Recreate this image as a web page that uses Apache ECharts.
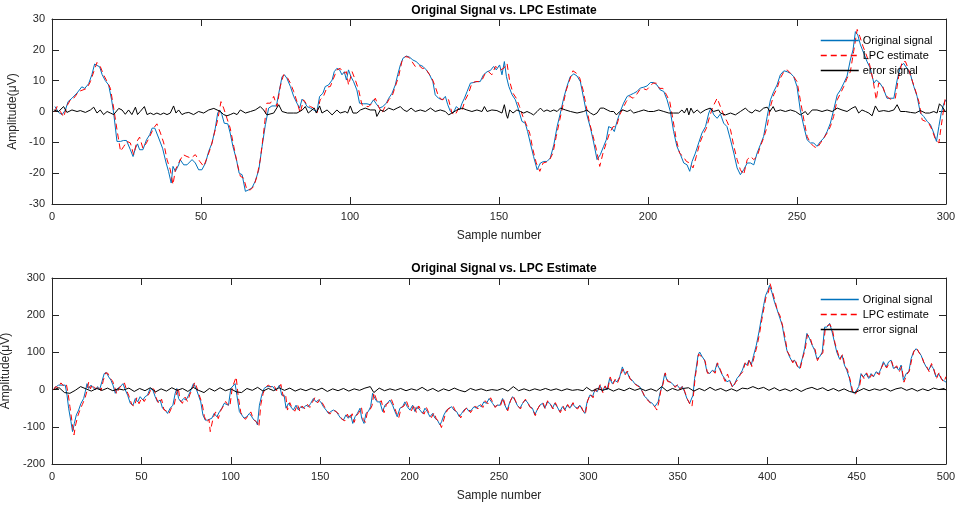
<!DOCTYPE html>
<html><head><meta charset="utf-8">
<script src="https://cdn.jsdelivr.net/npm/echarts@6/dist/echarts.min.js"></script>
<style>html,body{margin:0;padding:0;background:#fff}#c{width:956px;height:506px}</style>
</head><body><div id="c"></div>
<script>
// ---------- data (sample number, amplitude in µV) ----------
const titles = ["Original Signal vs. LPC Estimate", "Original Signal vs. LPC Estimate"];
const seriesNames = ["Original signal", "LPC estimate", "error signal"];
const topXTicks = [0, 300, 50];   // min, max, step
const topYTicks = [-30, 30, 10];
const botXTicks = [0, 500, 50];
const botYTicks = [-200, 300, 100];

const top_orig = [[1,1.6],[2.2,-0.3],[3.4,-1],[4.5,0.5],[5.4,3.2],[6.7,4.3],[8.4,6],[10,8],[11,7.5],[12.3,9],[13.4,12],[14.3,15.4],[15,15],[16,14.5],[16.8,12],[17.9,10],[19,8.6],[20,3.8],[20.7,-0.5],[21.8,-9.7],[23,-9.7],[24,-9.4],[25,-9.4],[26.3,-12.4],[27.2,-14.6],[28,-11.9],[28.7,-10.5],[29.4,-12.4],[30.5,-12.4],[31.7,-9.2],[32.8,-7.5],[33.6,-5.4],[34.5,-5.4],[35.8,-8.6],[37.1,-11.9],[38.3,-16.7],[39.1,-19.4],[40,-23.2],[40.6,-17.8],[41.4,-19.4],[42.5,-17.3],[43,-15.6],[44.2,-17.3],[45.3,-17.3],[47,-15.6],[48.1,-16.7],[49.2,-18.9],[50.3,-18.9],[51.5,-16.7],[52.6,-12.9],[53.7,-10.2],[54.8,-5.4],[55.6,-0.5],[56.3,0.5],[57,-1],[57.8,-3.8],[59,-4],[59.8,-7],[60.7,-11.3],[61.9,-15.6],[62.8,-20],[63.8,-20.5],[64.9,-25.9],[66,-25.4],[67.1,-24.8],[68.2,-22.6],[69.4,-18.9],[70.5,-11.3],[71.6,-4.3],[72.7,1.1],[73.8,1.8],[75.3,1.8],[76.1,5.9],[77.2,11.3],[78,11.9],[78.8,10.8],[80,8.1],[81.1,4.9],[82.2,2.7],[83.1,1.1],[83.9,4],[84.7,3.2],[85.6,1.6],[86.7,1.1],[87.8,0.5],[88.9,0],[89.8,4.9],[90.9,5.9],[91.7,8.1],[92.8,8.6],[94,10.2],[94.7,12.9],[95.6,14],[96.5,13.5],[97.3,11.9],[98.1,12.9],[98.8,10.2],[99.5,13.5],[100.3,11.3],[101.2,9.7],[102.3,7],[103.2,2.7],[104.6,2.5],[105.7,2.5],[106.8,2.2],[107.9,3.8],[108.8,2.5],[109.9,1.1],[111,1.6],[112.2,2.7],[113,4.3],[114.1,5.9],[115.2,8.6],[116,11.9],[116.9,15.1],[117.8,17.3],[118.9,18],[120,17.6],[121.1,16.7],[122.2,16.2],[123.4,15.1],[124.5,14.6],[125.6,13.5],[126.7,11.9],[127.8,9.7],[128.6,5.4],[129.7,4.3],[130.9,3.8],[132,4.9],[132.8,2.2],[133.7,0],[134.6,-0.5],[135.7,1.6],[136.8,0.5],[137.6,2.7],[138.4,4.3],[139.3,6.5],[140.4,9.2],[141.5,9.4],[142.6,9.7],[143.7,9.7],[144.8,11.9],[146,12.9],[147.1,13.3],[148.2,14.6],[149.1,13.5],[150.2,15.1],[151,11.9],[151.8,16.2],[152.5,11.3],[153.3,8.1],[154.4,5.4],[155.5,3.8],[156.6,0.5],[157.7,-3.2],[158.8,-3.8],[159.6,-6.5],[160.5,-10.2],[161.6,-14.6],[162.8,-18.9],[163.9,-16.7],[165,-16.2],[166.1,-16.2],[167.2,-15.1],[168.4,-10.8],[169.5,-4.9],[170.6,-0.5],[171.7,4.3],[172.8,8.1],[173.9,11.3],[175.1,12.2],[176.2,11.5],[177.3,9.7],[178.4,4.3],[179.5,-1.1],[180.7,-5.4],[181.8,-10.2],[182.9,-15.6],[184,-14],[185.1,-11.3],[186,-9.2],[186.8,-4.9],[187.9,-5.4],[188.7,-6.5],[189.6,-3.2],[190.7,0],[191.8,2.7],[193,4.9],[194.1,5.4],[195.2,5.9],[196.3,6.5],[197.4,7.6],[198.6,7.9],[199.7,8.3],[200.8,9.4],[201.9,9.4],[203,8.6],[204.1,7],[205.3,6.5],[206.4,3.8],[207.5,0],[208.6,-6.5],[209.7,-11.3],[210.9,-14],[212,-16.7],[213.1,-17.3],[214,-19.4],[214.8,-16.2],[215.9,-13.5],[217,-10.2],[218.1,-7],[219.3,-4.9],[220.4,-0.5],[221.1,1.1],[222.1,-1.1],[223.2,-2.2],[224.3,-0.8],[225.4,-3.8],[226.5,-4.9],[227.7,-9.2],[228.8,-13.5],[229.9,-18.3],[231,-20.5],[232.1,-18.9],[233.3,-16.7],[234.4,-16.7],[235.5,-17.3],[236.6,-13.5],[237.7,-10.8],[238.8,-8.1],[240,-1.6],[241.1,3.8],[242.2,6.5],[243.3,8.6],[244.4,11.9],[245.6,13.2],[246.7,12.9],[247.8,12.4],[248.9,11.3],[250,8.1],[251.1,0.5],[252.3,-4.9],[253.4,-9.2],[254.5,-10.2],[255.6,-10.2],[256.7,-11.3],[257.9,-9.7],[259,-8.6],[260.1,-6.5],[261.2,-3.8],[262.3,0.5],[263.5,5.4],[264.6,7],[265.7,9.2],[266.8,11.5],[267.9,16.7],[268.8,20],[269.6,25.9],[270.4,24.8],[271.3,21.6],[272.4,18.9],[273.5,16.2],[274.6,14],[275.8,9.2],[276.6,10.2],[277.8,9.2],[278.9,7.6],[280.2,4.3],[281.3,4.3],[282.5,4.3],[283.6,10.2],[284.7,14.6],[285.8,15.6],[286.9,14],[288.1,11.9],[289.2,8.1],[290.3,4.9],[291.4,-0.5],[292.5,-1.6],[293.7,-3.2],[294.8,-4.3],[295.9,-7],[296.8,-9.7],[297.6,-4.9],[298.4,-0.5],[299.3,2.7],[300,3.8]];

const top_lpc = [[1,0],[1.7,1.6],[2.8,0],[3.9,-1.8],[5,1.8],[6.2,3.8],[7.3,4.3],[9,6.5],[10.4,7],[11.7,7.5],[12.9,9.7],[14,12.9],[15.1,15.9],[16.2,14.6],[17.3,11.9],[18.5,9.7],[19.6,7.5],[20.7,1.1],[21.8,-5.9],[23,-12.9],[24.1,-11.3],[25.2,-9.7],[26.3,-10.2],[27.4,-14],[28.5,-9.7],[29.4,-8.3],[30.5,-11.9],[31.7,-10.2],[32.8,-8.1],[34.1,-5.4],[35.2,-4],[36.4,-7],[37.5,-10.2],[38.6,-15.6],[39.7,-18.9],[40.6,-23.7],[41.4,-18.9],[42.5,-16.7],[44,-14],[45.3,-14.6],[46.6,-15.1],[48.1,-14],[49.6,-16.2],[50.9,-17.8],[52,-15.1],[53.4,-11.3],[54.5,-7],[55.6,-2.7],[56.7,3.2],[57.6,1.1],[58.7,-2.2],[59.8,-5.4],[61,-11.3],[62.1,-16.7],[63.2,-21],[64.3,-21.6],[65.4,-25.4],[66.6,-25.4],[67.7,-24.3],[68.8,-21],[69.9,-15.6],[71,-7],[72.1,2.7],[73.3,2.7],[74.4,4.9],[75.5,1.6],[76.6,8.1],[77.7,11.9],[78.8,11.3],[80,9.2],[81.1,6.5],[82.2,3.2],[83.3,-0.5],[84.4,3.8],[85.6,2.2],[86.7,1.6],[87.8,1.1],[88.9,-0.5],[90,3.8],[91.1,4.9],[92.3,7.9],[93.4,8.1],[94.5,10.8],[95.6,13.5],[96.7,14],[97.9,12.4],[98.8,12.9],[99.5,8.6],[100.7,12.9],[101.8,10.2],[102.9,7],[104,2.2],[105.1,1.6],[106.3,1.6],[107.4,2.7],[108.5,4.3],[109.6,1.6],[110.7,-0.5],[111.8,1.6],[113,3.8],[114.1,4.9],[115.2,8.1],[116.3,11.3],[117.4,16.2],[118.6,17.8],[119.7,17.6],[120.8,16.2],[121.9,14.6],[123,15.1],[124.2,14],[125.3,14],[126.4,12.4],[127.5,10.8],[128.6,8.1],[129.7,4.9],[130.9,3.8],[132,4.3],[133.1,3.8],[134.2,-0.5],[135.3,-1.1],[136.5,1.1],[137.6,0.5],[138.7,3.8],[139.8,5.9],[140.9,9.2],[142.1,9.7],[143.2,9.7],[144.3,10.2],[145.4,12.4],[146.5,12.9],[147.6,11.9],[148.8,14.6],[149.3,15.1],[150.5,13.5],[151.6,14],[152.7,15.6],[153.6,9.7],[154.7,5.9],[155.8,4.3],[156.9,1.6],[158,-1.6],[159.2,-4.3],[160.3,-7],[161.4,-12.4],[162.5,-16.7],[163.7,-19.4],[164.8,-16.7],[165.9,-16.4],[167,-15.6],[168.1,-13.5],[169.2,-8.1],[170.4,-2.7],[171.5,2.2],[172.6,7],[173.7,10.2],[174.8,13.2],[176,12.4],[177.1,10.8],[178.2,7],[179.3,1.6],[180.4,-3.8],[181.6,-8.1],[182.7,-12.4],[183.8,-17.8],[184.9,-13.5],[186,-10.2],[187.1,-7],[188.3,-4.9],[189.4,-4.9],[190.5,-1.1],[191.6,1.1],[192.7,3.2],[193.9,4.9],[195,4.3],[196.1,5.4],[197.2,7],[198.3,7.5],[199.5,7],[200.6,8.1],[201.7,9.2],[202.8,9.2],[203.9,7.5],[205,7.5],[206.2,5.4],[207.3,3.2],[208.4,-2.7],[209.5,-9.2],[210.6,-13.5],[211.8,-14.6],[212.9,-16.2],[214,-16.7],[215.1,-18.3],[216.2,-14.6],[217.4,-10.2],[218.5,-7.5],[219.6,-5.4],[220.7,-1.6],[221.8,1.6],[223.2,4.3],[224.3,1.6],[225.4,-1.1],[226.5,-3.2],[227.7,-5.9],[228.8,-11.3],[229.9,-15.6],[231,-18.9],[232.1,-20.5],[233.3,-15.6],[234.4,-14.6],[235.5,-15.6],[236.6,-14.6],[237.7,-11.3],[238.8,-8.6],[240,-4.9],[241.1,1.6],[242.2,5.4],[243.3,7.5],[244.4,10.8],[245.6,12.9],[246.7,13.5],[247.8,12.4],[248.9,11.3],[250,9.7],[251.1,3.8],[252.3,-2.7],[253.4,-8.1],[254.5,-10.2],[255.6,-11.3],[256.7,-11.9],[257.9,-10.2],[259,-8.6],[260.1,-7],[261.2,-4.9],[262.3,-1.6],[263.5,3.8],[264.6,5.9],[265.7,8.1],[266.8,10.8],[267.9,12.9],[269,19.4],[270.2,26.6],[271.1,24.3],[272.2,21],[273.3,18.3],[274.4,15.1],[275.5,10.2],[276.6,3.8],[277.4,9.2],[278.6,8.6],[279.7,5.4],[280.8,4.3],[281.9,3.8],[283,4.3],[284.1,11.3],[285.3,16.2],[286.4,16.2],[287.5,13.5],[288.6,10.2],[289.7,7],[290.9,3.2],[292,-2.7],[293.1,-3.2],[294.2,-3.8],[295.3,-5.9],[296.5,-9.2],[297.6,-10.2],[298.7,-2.7],[299.8,4.9]];

const top_err = [[0.6,0.5],[2.2,0],[3.9,1.6],[5,-0.3],[6.7,0.5],[8.4,0],[9.5,0.3],[11.2,-0.3],[12.9,0.5],[14,1.4],[15.1,-0.5],[16.2,0.5],[17.3,-1],[18.5,0],[19.6,-0.5],[20.7,-1],[22.4,1],[23.5,0.5],[24.6,-0.9],[25.7,0.5],[26.8,-1],[28,1.4],[28.7,-1],[29.6,0],[31,1.6],[31.9,-1],[33,-0.5],[34.1,-1],[35.2,-0.5],[36.4,-1],[37.5,-0.5],[38.6,-1],[39.7,-0.5],[40.3,-1],[40.8,1.8],[41.6,-0.5],[42.5,0.5],[43.6,-1],[44.7,-0.5],[45.9,-0.3],[47.5,-1],[49.2,0],[50.9,-0.5],[52.6,0.5],[54.3,1],[55.4,0.5],[56.5,0],[57.6,-1],[58.7,-1.4],[59.8,-1],[61,-0.5],[62.1,-1],[63.2,0.5],[64.9,-0.5],[66.6,0],[68.2,0.5],[69.9,1.6],[71,0.5],[72.1,-1.1],[74.4,-0.5],[76.1,2.2],[77.2,0],[79,-0.5],[81,-0.5],[82.2,-0.5],[84,0.5],[85,1.6],[86,-0.5],[88,1.1],[88.7,-0.5],[89.8,1.8],[90.6,-0.5],[92.3,0.5],[94,-1.1],[95.6,0.5],[96.7,-0.5],[98.4,0],[99.2,-0.5],[100.1,1.8],[101,-0.5],[102.3,-0.5],[103.5,0.5],[105.1,1.1],[106.8,0.5],[108.5,0.5],[109,-1.6],[110.2,0.5],[111.5,0],[113,1.1],[114.6,0.5],[115.8,1.1],[116.9,1.6],[118,0.5],[119.1,0],[120.5,1.1],[121.9,0],[123.6,0.5],[125.3,0],[127,1.1],[128.6,0],[130.3,0.5],[132,0],[133.1,-1.1],[134.2,-0.5],[135.9,0.5],[137.6,1.1],[139.2,0.5],[140.9,0],[142.6,0.5],[144.3,0],[145.1,1.6],[146,0],[147.6,0.5],[149.3,0.3],[151,-0.5],[151.8,2.2],[152.5,-1.1],[152.9,-2.2],[153.6,0.5],[154.7,-0.5],[156,0.5],[157.2,0],[158.3,-0.5],[159.4,0],[160.5,-0.5],[161.6,-1.1],[162.8,0],[163.9,1.1],[165,0],[166.1,0.5],[167.2,0],[168.4,0.5],[169.5,0],[170.6,1.1],[172.3,0.5],[174,0],[176.2,-0.5],[178.4,0],[179.5,0.5],[180.7,-0.5],[181.8,-1.1],[182.9,-0.5],[184,1.1],[185.1,1.1],[186.3,0.5],[187.4,0],[188.5,0],[189.4,-1.1],[190.5,0],[191.6,0.5],[193,0],[194.1,0.5],[195.2,-0.5],[196.9,0],[198.6,0.5],[200.2,0],[201.9,0],[203.6,0.5],[205.3,0],[207,-0.5],[208.6,-0.5],[210.3,-0.5],[211.4,0.5],[212.2,-0.5],[213.1,1.1],[213.7,-1.1],[214.4,1.1],[215.3,-0.5],[216.5,0.5],[217.6,-0.5],[219.2,0.5],[220.9,1.1],[222,0],[223.7,0.5],[224.3,-0.5],[226,-1.1],[227.7,-0.5],[229.3,-1.1],[231,0],[232.7,1.1],[233.8,0],[234.9,-0.5],[236,0.5],[237.5,0],[238.8,1.1],[240,1.4],[240.9,0],[242,1.6],[242.8,0],[244.4,0.5],[246.1,0],[247.8,0.5],[249.5,0],[251.1,-1.1],[252.8,0],[253.6,-1.1],[255.1,0.5],[256.7,0.5],[258.4,0],[260.1,0.5],[261.8,0],[263.5,1.1],[265.1,0.5],[266.8,0],[268.5,1.1],[269.6,1.6],[270.7,-0.5],[271.8,0.5],[273,0],[274.1,-0.5],[275.2,-1.4],[276.3,1.8],[277.4,0],[279.1,0.3],[280.8,0],[282.5,0.5],[283.6,2.2],[284.7,0],[286.4,0],[288.1,-0.3],[289.7,-0.5],[291.4,0.3],[293.1,-0.5],[294.5,-0.5],[295.9,0],[297,-0.5],[297.8,2.5],[298.7,1.6],[299.8,0]];

const bot_orig = [[1,3],[2.4,8],[3.7,12],[5,12],[6.1,8],[7.4,12],[8.4,-15],[9.3,-50],[10.6,-86],[11.5,-113],[12.5,-91],[13.6,-68],[14.9,-55],[16.2,-37],[17.7,-24],[18.6,-6],[19.6,16],[20.5,3],[21.8,12],[22.9,8],[24.2,-1],[25.5,8],[26.6,-1],[27.9,21],[29.2,43],[30.4,46],[31.7,34],[33,25],[34.1,12],[35.4,-10],[36.7,3],[38.2,8],[39.7,16],[41,-1],[42.3,-15],[43.8,-37],[45.3,-42],[46.6,-24],[47.9,-33],[49.3,-19],[50.8,-28],[52.1,-19],[53.4,-15],[54.9,3],[56.4,-1],[57.7,-19],[59,-33],[60.5,-28],[61.8,-50],[63.3,-55],[64.6,-64],[66.1,-50],[67.6,-42],[68.9,-10],[69.8,3],[70.8,-24],[72.1,-33],[73.6,-24],[75,-28],[76.4,-15],[77.7,-1],[79.1,16],[80.6,3],[81.9,-15],[83.2,-33],[84.4,-68],[85.7,-82],[87,-82],[88.1,-86],[89.4,-77],[90.7,-64],[92.2,-73],[93.7,-59],[95,-50],[96.3,-37],[97.4,-33],[98.7,-42],[100,3],[101.1,8],[102.4,16],[103.4,-15],[104.8,-59],[106.1,-68],[107.4,-77],[108.9,-73],[110.4,-64],[111.7,-73],[113,-82],[114.2,-86],[114.9,-95],[116,-42],[117.3,-15],[118.6,3],[120.1,8],[122,8],[123.5,8],[124.8,-1],[126.1,3],[127.2,12],[128.5,-15],[129.8,-15],[130.9,-50],[132.2,-37],[133.5,-46],[135,-55],[136.5,-42],[137.8,-55],[139.1,-46],[140.6,-50],[142.1,-42],[143.4,-46],[144.7,-37],[146.2,-24],[147.7,-33],[149,-28],[150.3,-33],[151.8,-46],[153.3,-55],[154.6,-64],[155.9,-59],[157.4,-55],[158.9,-59],[160.2,-68],[161.5,-77],[163,-82],[164.4,-68],[165.7,-77],[167.1,-68],[168.2,-91],[169.5,-73],[170.8,-64],[172.3,-50],[173.2,-77],[174.5,-91],[175.6,-64],[176.9,-59],[178.2,-46],[179.3,-10],[180.6,-24],[181.9,-33],[183.4,-33],[184.9,-59],[186.2,-42],[187.5,-37],[189,-28],[190.5,-42],[191.8,-59],[193.1,-73],[194.6,-50],[196.1,-46],[197.4,-33],[198.7,-46],[200.2,-55],[201.7,-42],[203,-59],[204.3,-46],[205.8,-55],[207.3,-64],[208.6,-50],[209.9,-59],[211.4,-73],[212.9,-64],[214.2,-77],[215.5,-82],[217,-95],[217.9,-86],[219.2,-68],[220.7,-55],[222.2,-50],[223.5,-46],[224.8,-55],[226.3,-59],[227.8,-73],[229.1,-64],[230.4,-55],[231.9,-50],[233.3,-59],[234.6,-55],[236,-46],[237.4,-50],[238.9,-42],[240.2,-46],[241.5,-33],[243,-37],[244.5,-24],[246.4,-37],[247.7,-46],[249,-42],[250.5,-42],[252,-24],[253.3,-42],[254.6,-55],[256.1,-33],[257.6,-19],[258.9,-28],[260.2,-42],[261.7,-50],[263.2,-37],[264.5,-28],[265.8,-33],[267.2,-46],[268.7,-50],[270,-68],[271.3,-55],[272.8,-42],[274.3,-37],[275.6,-50],[276.9,-33],[278.4,-37],[279.9,-50],[281.2,-37],[282.5,-46],[284,-59],[285.5,-46],[286.8,-55],[288.1,-42],[289.6,-50],[291.1,-37],[292.4,-46],[293.7,-50],[295.2,-42],[296.7,-55],[298,-64],[299.3,-33],[300.8,-15],[302.3,-19],[303.6,-1],[304.9,-6],[306.4,12],[307.8,-6],[309.1,8],[310.4,-1],[311.9,30],[313.4,16],[314.7,25],[316,21],[317.5,34],[319,61],[320.3,43],[321.6,48],[323.1,30],[324.6,25],[325.9,16],[327.2,12],[328.7,8],[330.2,-6],[331.5,-19],[332.8,-24],[334.3,-33],[335.8,-37],[337.1,-46],[338,-50],[339,-33],[340.2,-6],[341.4,12],[342.7,43],[344,25],[345.5,21],[347,16],[348.3,8],[349.6,12],[351.1,3],[352.5,8],[353.8,-6],[355.1,-24],[356.6,-37],[357.6,-42],[358.5,-15],[359.4,30],[360.4,61],[361.3,92],[362.2,101],[363.7,88],[365,79],[366.3,48],[367.8,43],[369.3,52],[370.6,48],[371.9,70],[373.4,55],[374.9,39],[376.2,30],[377.5,21],[379,25],[380.5,8],[381.8,16],[383.1,30],[384.6,39],[386.1,52],[387.4,70],[388.7,66],[389.8,79],[391.1,66],[392.4,92],[393.9,119],[395.4,155],[396.7,191],[398,226],[399.1,253],[400.4,267],[401.3,280],[402.6,262],[404.1,235],[405.4,217],[406.9,195],[408.4,173],[409.7,137],[411,106],[412.5,88],[414,75],[415.3,79],[416.6,66],[418.1,57],[419.6,83],[420.9,110],[422.2,151],[423.7,137],[425.2,119],[426.5,106],[427.8,83],[429.3,88],[430.8,101],[432.1,168],[433.4,168],[434.9,178],[436.3,155],[437.6,128],[438.9,101],[440.4,83],[441.9,92],[443.2,66],[444.5,52],[446,30],[447.5,-6],[448.8,-10],[450.1,-1],[451.2,8],[452.5,43],[453.8,34],[455.3,43],[456.8,30],[458.1,43],[459.4,34],[460.9,48],[462.4,43],[463.7,57],[465,75],[466.5,61],[468,75],[469.3,79],[470.6,57],[472.1,61],[473.6,52],[474.9,66],[476.2,25],[477.7,43],[479.2,48],[480.5,83],[481.8,101],[483.3,110],[484.8,101],[486.1,92],[487.4,75],[488.9,61],[490.3,52],[491.6,66],[492.9,57],[494.4,34],[495.9,43],[497.2,30],[498.5,25],[500,20]];

const bot_lpc = [[1,0],[2,8],[3.5,5],[5,18],[6.5,10],[8,15],[9,-10],[10,-45],[11.3,-90],[12.3,-122],[13.2,-95],[14.5,-70],[15.8,-52],[17,-40],[18.5,-22],[19.5,-5],[20.5,20],[21.5,2],[22.6,14],[23.7,5],[25,2],[26.3,10],[27.4,-3],[28.7,25],[30,45],[31.2,44],[32.5,30],[33.8,24],[35,8],[36.2,-12],[37.5,5],[39,10],[40.5,18],[41.8,-3],[43.1,-18],[44.6,-40],[46.1,-45],[47.4,-22],[48.7,-38],[50.1,-22],[51.6,-32],[52.9,-20],[54.2,-12],[55.7,5],[57.2,0],[58.5,-25],[59.8,-38],[61.3,-26],[62.6,-54],[64.1,-58],[65.4,-65],[66.9,-48],[68.4,-40],[69.7,-8],[70.6,5],[71.6,-28],[72.9,-37],[74.4,-20],[75.8,-32],[77.2,-12],[78.5,2],[79.9,20],[81.4,0],[82.7,-20],[84,-38],[85.2,-72],[86.5,-88],[87.8,-80],[88.5,-113],[90.2,-75],[91.5,-60],[93,-78],[94.5,-55],[95.8,-45],[97.1,-32],[98.2,-40],[99.5,-45],[100.8,5],[101.9,10],[103,34],[104.2,-20],[105.6,-62],[106.9,-72],[108.2,-80],[109.7,-70],[111.2,-60],[112.5,-78],[113.8,-85],[115,-90],[115.7,-100],[116.8,-40],[118.1,-10],[119.4,6],[120.9,12],[122.8,6],[124.3,10],[125.6,-3],[126.9,5],[128,14],[129.3,-18],[130.6,-12],[131.7,-55],[133,-35],[134.3,-50],[135.8,-58],[137.3,-40],[138.6,-58],[139.9,-44],[141.4,-52],[142.9,-40],[144.2,-48],[145.5,-35],[147,-22],[148.5,-36],[149.8,-26],[151.1,-35],[152.6,-48],[154.1,-58],[155.4,-66],[156.7,-57],[158.2,-57],[159.7,-62],[161,-70],[162.3,-80],[163.8,-84],[165.2,-66],[166.5,-80],[167.9,-65],[169,-88],[170.3,-70],[171.6,-62],[173.1,-48],[174,-80],[175.3,-88],[176.4,-60],[177.7,-56],[179,-43],[180.1,-8],[181.4,-26],[182.7,-35],[184.2,-30],[185.7,-62],[187,-40],[188.3,-35],[189.8,-26],[191.3,-45],[192.6,-62],[193.9,-76],[195.4,-48],[196.9,-44],[198.2,-30],[199.5,-48],[201,-57],[202.5,-40],[203.8,-62],[205.1,-44],[206.6,-57],[208.1,-66],[209.4,-48],[210.7,-62],[212.2,-75],[213.7,-62],[215,-80],[216.3,-84],[217.8,-102],[218.7,-88],[220,-66],[221.5,-52],[223,-48],[224.3,-44],[225.6,-57],[227.1,-62],[228.6,-76],[229.9,-62],[231.2,-52],[232.7,-48],[234.1,-62],[235.4,-52],[236.8,-44],[238.2,-52],[239.7,-40],[241,-48],[242.3,-30],[243.8,-38],[245.3,-22],[246.6,-35],[247.9,-48],[249.3,-40],[250.8,-44],[252.3,-22],[253.6,-44],[254.9,-57],[256.4,-30],[257.9,-16],[259.2,-30],[260.5,-44],[262,-52],[263.5,-35],[264.8,-26],[266.1,-35],[267.5,-48],[269,-52],[270.3,-70],[271.6,-52],[273.1,-40],[274.6,-35],[275.9,-52],[277.2,-30],[278.7,-38],[280.2,-52],[281.5,-35],[282.8,-48],[284.3,-62],[285.8,-44],[287.1,-57],[288.4,-40],[289.9,-52],[291.4,-35],[292.7,-48],[294,-52],[295.5,-40],[297,-57],[298.3,-66],[299.6,-30],[301.1,-12],[302.6,-22],[303.9,2],[305.2,-8],[306.7,15],[308.1,-8],[309.4,10],[310.7,-3],[312.2,34],[313.7,14],[315,28],[316.3,18],[317.8,36],[319.3,55],[320.6,40],[321.9,50],[323.4,28],[324.9,22],[326.2,14],[327.5,10],[329,5],[330.5,-8],[331.8,-22],[333.1,-28],[334.6,-36],[336.1,-40],[337.4,-48],[338.3,-55],[339.3,-36],[340.5,-3],[341.7,14],[343,45],[344.3,22],[345.8,20],[347.3,14],[348.6,6],[349.9,14],[351.4,0],[352.8,10],[354.1,-8],[355.4,-26],[356.9,-40],[357.9,-46],[358.8,-12],[359.7,32],[360.7,64],[361.6,95],[362.5,98],[364,86],[365.3,76],[366.6,44],[368.1,45],[369.6,50],[370.9,44],[372.2,72],[373.7,55],[375.2,36],[376.5,22],[377.8,42],[379.3,20],[380.8,5],[382.1,18],[383.4,26],[384.9,40],[386.4,48],[387.7,72],[389,62],[390.1,82],[391.4,62],[392.7,88],[394.2,115],[395.7,150],[397,188],[398.3,222],[399.4,250],[400.7,262],[401.6,285],[402.9,264],[404.4,238],[405.7,212],[407.2,198],[408.7,170],[410,140],[411.3,102],[412.8,90],[414.3,72],[415.6,82],[416.9,62],[418.4,55],[419.9,86],[421.2,106],[422.5,148],[424,140],[425.5,115],[426.8,108],[428.1,78],[429.6,92],[431.1,98],[432.4,160],[433.7,172],[435.2,175],[436.6,158],[437.9,125],[439.2,104],[440.7,80],[442.2,95],[443.5,62],[444.8,55],[446.3,28],[447.8,-4],[449.1,-14],[450.4,-3],[451.5,5],[452.8,40],[454.1,30],[455.6,45],[457.1,28],[458.4,40],[459.7,36],[461.2,45],[462.7,40],[464,60],[465.3,72],[466.8,58],[468.3,72],[469.6,76],[470.9,55],[472.4,64],[473.9,48],[475.2,62],[476.5,20],[478,40],[479.5,50],[480.8,80],[482.1,104],[483.6,112],[485.1,98],[486.4,90],[487.7,72],[489.2,62],[490.6,48],[491.9,70],[493.2,55],[494.7,30],[496.2,46],[497.5,28],[498.8,20],[500,35]];

const bot_err = [[1,0],[4,5],[7,-8],[10,-10],[13,-2],[16,8],[19,2],[22,-4],[25,3],[28,-2],[31,4],[34,-3],[37,2],[40,-1],[43,4],[46,-5],[49,3],[52,-3],[55,5],[58,-6],[61,2],[64,-4],[67,5],[70,-2],[73,3],[76,-5],[79,6],[82,-2],[85,-8],[88,3],[91,-4],[94,5],[97,-3],[100,2],[103,-6],[106,-8],[109,3],[112,-2],[115,6],[118,-4],[121,3],[124,-3],[127,5],[130,-2],[133,4],[136,-4],[139,2],[142,-3],[145,3],[148,-2],[151,4],[154,-5],[157,2],[160,-3],[163,3],[166,-4],[169,2],[172,-2],[175,4],[178,8],[180,-8],[183,4],[186,-3],[189,2],[192,-2],[195,3],[198,-3],[201,2],[204,-2],[207,6],[210,-3],[213,3],[216,-5],[219,2],[222,-3],[225,4],[228,-2],[231,-6],[234,3],[237,-2],[240,2],[243,-3],[246,0],[249,-2],[252,3],[255,-4],[258,8],[261,-3],[264,2],[267,-3],[270,2],[273,-2],[276,3],[279,-2],[282,2],[285,-3],[288,2],[291,-2],[294,0],[297,-3],[299,6],[302,-4],[305,3],[308,-2],[311,3],[314,-4],[317,2],[320,-3],[323,4],[326,-2],[329,3],[332,-3],[335,2],[338,-4],[341,8],[344,-4],[347,3],[350,-2],[353,3],[356,5],[359,-4],[362,3],[365,-3],[368,6],[371,-2],[374,3],[377,-4],[380,2],[383,-4],[386,4],[389,2],[392,8],[395,2],[398,6],[401,-2],[404,5],[407,-3],[410,2],[413,-4],[416,3],[419,-5],[422,2],[425,6],[428,0],[431,5],[434,-3],[437,3],[440,-4],[443,2],[446,-5],[449,-8],[451,-4],[454,3],[457,-3],[460,2],[463,-2],[466,3],[469,-4],[472,2],[475,5],[478,-2],[481,3],[484,-4],[487,2],[490,-3],[493,4],[496,0],[499,3],[500,-2]];

// ---------- chart ----------
const FONT = 'Liberation Sans, Arial, Helvetica, sans-serif';
const AX = '#262626';
const colors = ['#0072BD', '#FF0000', '#000000'];

function xAxes(g, t) {
  const base = {gridIndex: g, type: 'value', min: t[0], max: t[1], interval: t[2],
    splitLine: {show: false},
    axisLine: {show: true, onZero: false, lineStyle: {color: AX, width: 1}},
    axisTick: {show: true, inside: true, length: 7, lineStyle: {color: AX}}};
  return [
    Object.assign({}, base, {position: 'bottom',
      axisLabel: {color: AX, fontSize: 11, fontFamily: FONT, margin: 7},
      name: 'Sample number', nameLocation: 'middle', nameGap: 26,
      nameTextStyle: {color: AX, fontSize: 12, fontFamily: FONT}}),
    Object.assign({}, base, {position: 'top', axisLabel: {show: false}})
  ];
}
function yAxes(g, t) {
  const base = {gridIndex: g, type: 'value', min: t[0], max: t[1], interval: t[2],
    splitLine: {show: false},
    axisLine: {show: true, onZero: false, lineStyle: {color: AX, width: 1}},
    axisTick: {show: true, inside: true, length: 7, lineStyle: {color: AX}}};
  return [
    Object.assign({}, base, {position: 'left',
      axisLabel: {color: AX, fontSize: 11, fontFamily: FONT, margin: 7},
      name: 'Amplitude(μV)', nameLocation: 'middle', nameGap: 24, nameRotate: 90,
      nameTextStyle: {color: AX, fontSize: 12, fontFamily: FONT}}),
    Object.assign({}, base, {position: 'right', axisLabel: {show: false}})
  ];
}
function mk(name, data, xi, yi, idx) {
  return {name: name, type: 'line', data: data, xAxisIndex: xi, yAxisIndex: yi,
    symbol: 'none', animation: false, silent: true, z: 2 + idx,
    lineStyle: {color: colors[idx], width: 1, type: idx === 1 ? [6, 4] : 'solid'},
    itemStyle: {color: colors[idx]}};
}
function legendAt(top) {
  return {
    data: seriesNames.map(function (n, i) {
      return {name: n, lineStyle: {color: colors[i], width: 1.5, type: i === 1 ? [6, 4] : 'solid'}};
    }),
    orient: 'vertical', left: 815, top: top,
    itemWidth: 38, itemHeight: 10, itemGap: 4,
    itemStyle: {opacity: 0},
    textStyle: {color: '#000', fontSize: 11, fontFamily: FONT, padding: [0, 0, 0, -1]},
    backgroundColor: 'transparent'};
}

const chart = echarts.init(document.getElementById('c'), null, {renderer: 'canvas'});
chart.setOption({
  backgroundColor: '#fff',
  animation: false,
  title: [
    {text: titles[0], left: 499, top: 0, textAlign: 'center',
     textStyle: {fontSize: 12, fontWeight: 'bold', color: '#000', fontFamily: FONT}},
    {text: titles[1], left: 499, top: 258, textAlign: 'center',
     textStyle: {fontSize: 12, fontWeight: 'bold', color: '#000', fontFamily: FONT}}
  ],
  legend: [legendAt(30), legendAt(289)],
  grid: [
    {left: 52, top: 19, width: 894, height: 185, containLabel: false, outerBoundsMode: 'none'},
    {left: 52, top: 278, width: 894, height: 186, containLabel: false, outerBoundsMode: 'none'}
  ],
  xAxis: xAxes(0, topXTicks).concat(xAxes(1, botXTicks)),
  yAxis: yAxes(0, topYTicks).concat(yAxes(1, botYTicks)),
  series: [
    mk(seriesNames[0], top_orig, 0, 0, 0),
    mk(seriesNames[1], top_lpc, 0, 0, 1),
    mk(seriesNames[2], top_err, 0, 0, 2),
    mk(seriesNames[0], bot_orig, 2, 2, 0),
    mk(seriesNames[1], bot_lpc, 2, 2, 1),
    mk(seriesNames[2], bot_err, 2, 2, 2)
  ]
});
</script>
</body></html>
